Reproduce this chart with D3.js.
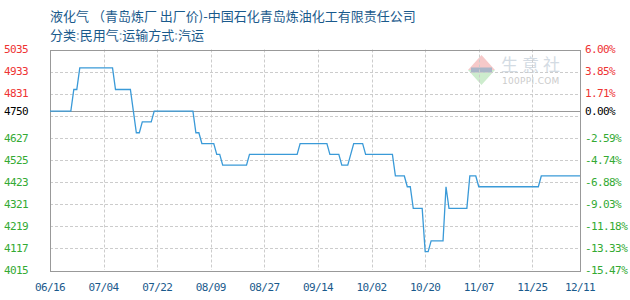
<!DOCTYPE html>
<html><head><meta charset="utf-8">
<script src="https://cdn.jsdelivr.net/npm/d3@7"></script>
<style>body{margin:0;background:#fff}svg{display:block}</style>
</head><body><svg id="c" width="630" height="300"></svg>
<script>
// ---- data ----
const titleText = "液化气 （青岛炼厂 出厂价)-中国石化青岛炼油化工有限责任公司";
const subtitleParts = ["分类", ":", "民用气", ":", "运输方式", ":", "汽运"];
const dates = ["2023-06-16","2023-06-23","2023-06-24","2023-06-25","2023-06-26","2023-07-07","2023-07-08","2023-07-13","2023-07-14","2023-07-15","2023-07-16","2023-07-17","2023-07-20","2023-07-21","2023-08-03","2023-08-04","2023-08-05","2023-08-06","2023-08-10","2023-08-11","2023-08-12","2023-08-13","2023-08-21","2023-08-22","2023-09-07","2023-09-08","2023-09-17","2023-09-18","2023-09-21","2023-09-22","2023-09-24","2023-09-26","2023-09-29","2023-09-30","2023-10-09","2023-10-10","2023-10-13","2023-10-14","2023-10-15","2023-10-16","2023-10-19","2023-10-20","2023-10-21","2023-10-22","2023-10-26","2023-10-27","2023-10-28","2023-11-03","2023-11-04","2023-11-06","2023-11-07","2023-11-27","2023-11-28","2023-12-11"];
const prices = [4750,4750,4850,4850,4950,4950,4850,4850,4750,4650,4650,4700,4700,4750,4750,4650,4650,4600,4600,4550,4550,4500,4500,4550,4550,4600,4600,4550,4550,4500,4500,4600,4600,4550,4550,4450,4450,4400,4400,4300,4300,4100,4100,4150,4150,4400,4300,4300,4450,4450,4400,4400,4450,4450];
const baseline = 4750;
const yDomain = [4015, 5035];
const gridValues = [4933,4831,4729,4627,4525,4423,4321,4219,4117];
const leftTickValues = [5035,4933,4831,4750,4627,4525,4423,4321,4219,4117,4015];
const rightTickLabels = ["6.00%","3.85%","1.71%","0.00%","-2.59%","-4.74%","-6.88%","-9.03%","-11.18%","-13.33%","-15.47%"];
const xTickDates = ["2023-06-16","2023-07-04","2023-07-22","2023-08-09","2023-08-27","2023-09-14","2023-10-02","2023-10-20","2023-11-07","2023-11-25","2023-12-11"];

// ---- chart ----
const parse = d3.timeParse("%Y-%m-%d");
const fmt = d3.timeFormat("%m/%d");
const svg = d3.select("#c");
const L = 50, R = 580, T = 49.5, B = 270;
const x = d3.scaleTime().domain([parse(xTickDates[0]), parse(xTickDates[xTickDates.length-1])]).range([L, R]);
const y = d3.scaleLinear().domain(yDomain).range([B, T]);
const px = v => Math.round(v) + 0.5;

const textColor = "#1a5a8c";
const mono = "'DejaVu Sans Mono', 'Liberation Mono', monospace";

// title
svg.append("text").attr("x", 50).attr("y", 20.5)
  .attr("font-family", "'Noto Sans CJK SC', sans-serif").attr("font-size", 13)
  .attr("fill", textColor).text(titleText);
const sub = svg.append("text").attr("x", 50).attr("y", 40)
  .attr("font-family", "'Noto Sans CJK SC', sans-serif").attr("font-size", 13)
  .attr("fill", textColor);
subtitleParts.forEach(p => sub.append("tspan").attr("fill", p === ":" ? "#8aa4bc" : textColor).text(p));

// watermark
const wm = svg.append("g").attr("opacity", 1);
wm.append("path").attr("d", "M481.5,55 L495,70 L468,70 Z").attr("fill", "#f6c9c9");
wm.append("path").attr("d", "M468,70 L495,70 L481.5,85 Z").attr("fill", "#cdeccd");
wm.append("rect").attr("x", 471).attr("y", 67.5).attr("width", 21).attr("height", 5).attr("fill", "#aab6c8");
wm.append("text").attr("x", 501).attr("y", 71).attr("font-family", "'Noto Sans CJK SC', sans-serif")
  .attr("font-size", 17).attr("letter-spacing", 4).attr("fill", "#d3dbe3").text("生意社");
wm.append("text").attr("x", 502).attr("y", 84).attr("font-family", "'DejaVu Sans', sans-serif")
  .attr("font-size", 9).attr("letter-spacing", 0.3).attr("fill", "#cccccc").text("100PPI.COM");

// grid
const g = svg.append("g");
g.selectAll("line.hg").data(gridValues).enter().append("line")
  .attr("x1", L).attr("x2", R).attr("y1", d => px(y(d))).attr("y2", d => px(y(d)))
  .attr("stroke", "#cccccc").attr("stroke-dasharray", "3,2");
g.selectAll("line.vg").data(xTickDates.slice(1, -1)).enter().append("line")
  .attr("x1", d => px(x(parse(d)))).attr("x2", d => px(x(parse(d))))
  .attr("y1", T).attr("y2", B).attr("stroke", "#cccccc").attr("stroke-dasharray", "3,2");

// baseline
g.append("line").attr("x1", L).attr("x2", R).attr("y1", px(y(baseline))).attr("y2", px(y(baseline)))
  .attr("stroke", "#999999");

// border
g.append("rect").attr("x", px(L)).attr("y", px(T)).attr("width", Math.round(R - L)).attr("height", Math.round(B - T))
  .attr("fill", "none").attr("stroke", "#999999");

// line
const data = dates.map((d, i) => ({ d: parse(d), v: prices[i] }));
svg.append("path").datum(data)
  .attr("d", d3.line().x(p => x(p.d)).y(p => y(p.v)))
  .attr("fill", "none").attr("stroke", "#3a9ad8").attr("stroke-width", 1.3);

// left labels
const colorFor = v => v > baseline ? "#ee3333" : (v < baseline ? "#33aa33" : "#000000");
svg.append("g").selectAll("text").data(leftTickValues).enter().append("text")
  .attr("x", 28).attr("y", d => y(d)).attr("dy", "0.35em").attr("text-anchor", "end")
  .attr("font-family", mono).attr("font-size", 11).attr("letter-spacing", -0.6)
  .attr("fill", colorFor).text(d => d);

// right labels
svg.append("g").selectAll("text").data(leftTickValues).enter().append("text")
  .attr("x", 585).attr("y", d => y(d)).attr("dy", "0.35em").attr("text-anchor", "start")
  .attr("font-family", mono).attr("font-size", 11).attr("letter-spacing", -0.6)
  .attr("fill", colorFor).text((d, i) => rightTickLabels[i]);

// x labels
svg.append("g").selectAll("text").data(xTickDates).enter().append("text")
  .attr("x", d => x(parse(d))).attr("y", 287).attr("dy", "0.35em").attr("text-anchor", "middle")
  .attr("font-family", mono).attr("font-size", 11).attr("letter-spacing", -0.6)
  .attr("fill", textColor).text(d => fmt(parse(d)));
</script></body></html>
